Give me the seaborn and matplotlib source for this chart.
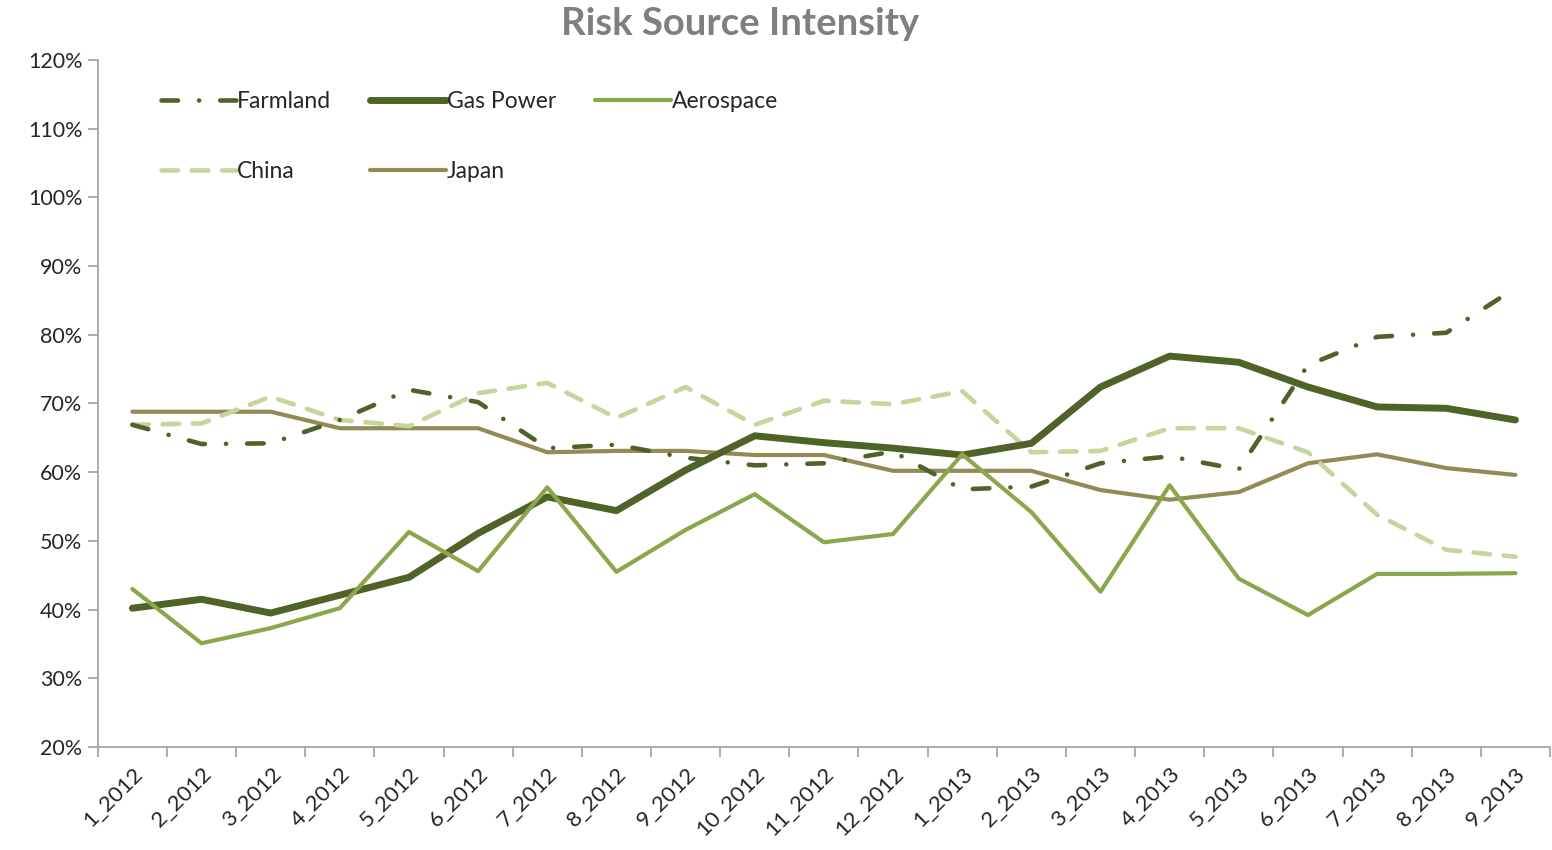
import numpy as np
import pandas as pd
import matplotlib
matplotlib.use("Agg")
import matplotlib.pyplot as plt
import seaborn as sns
from matplotlib.ticker import FixedLocator, PercentFormatter

# podaci ocitani sa slike (postoci)
months = ["1_2012", "2_2012", "3_2012", "4_2012", "5_2012", "6_2012", "7_2012",
          "8_2012", "9_2012", "10_2012", "11_2012", "12_2012", "1_2013", "2_2013",
          "3_2013", "4_2013", "5_2013", "6_2013", "7_2013", "8_2013", "9_2013"]
farmland = [66.9, 64.1, 64.2, 67.6, 72.0, 70.2, 63.5, 64.0, 62.1, 61.0, 61.3,
            63.0, 57.5, 57.9, 61.3, 62.3, 60.4, 75.6, 79.7, 80.3, 86.8]
gas_power = [40.2, 41.5, 39.5, 42.1, 44.7, 51.1, 56.4, 54.4, 60.3, 65.3, 64.3,
             63.5, 62.5, 64.2, 72.4, 76.9, 76.0, 72.4, 69.5, 69.3, 67.6]
aerospace = [43.0, 35.1, 37.3, 40.2, 51.3, 45.6, 57.8, 45.5, 51.6, 56.8, 49.8,
             51.0, 62.6, 54.2, 42.6, 58.1, 44.5, 39.2, 45.2, 45.2, 45.3]
china = [66.9, 67.1, 71.0, 67.6, 66.7, 71.5, 73.0, 67.9, 72.4, 66.9, 70.4,
         69.9, 71.8, 62.9, 63.1, 66.4, 66.4, 62.9, 53.8, 48.7, 47.7]
japan = [68.8, 68.8, 68.8, 66.4, 66.4, 66.4, 62.9, 63.1, 63.1, 62.5, 62.5,
         60.2, 60.2, 60.2, 57.4, 56.0, 57.1, 61.3, 62.6, 60.6, 59.6]

sns.set_style("white")
plt.rcParams['font.family'] = ['Lato', 'DejaVu Sans']

fig = plt.figure(figsize=(15.52, 8.5), dpi=100)
ax = fig.add_axes([0.063, 0.1212, 0.9357, 0.8082])

x = np.arange(len(months))

# stil za svaku seriju
serije = [
    ("Farmland", farmland, "#4F6228", 3.3, (0, (3.6, 4.6, 0.01, 4.6))),
    ("China", china, "#C3D69B", 3.3, (0, (3.6, 3.0))),
    ("Gas Power", gas_power, "#4F6228", 5.0, "-"),
    ("Japan", japan, "#948A54", 3.0, "-"),
    ("Aerospace", aerospace, "#8AA84B", 3.0, "-"),
]

redoslijed_crtanja = ["Japan", "China", "Farmland", "Gas Power", "Aerospace"]
linije = {}
for naziv in redoslijed_crtanja:
    s = [t for t in serije if t[0] == naziv][0]
    sns.lineplot(x=x, y=s[1], ax=ax, color=s[2], linewidth=s[3], label=s[0])
    ln = ax.get_lines()[-1]
    ln.set_linestyle(s[4])
    ln.set_dash_capstyle("round")
    ln.set_solid_capstyle("round")
    linije[naziv] = ln

ax.set_xlim(-0.5, len(months) - 0.5)
ax.set_ylim(20, 120)
ax.set_yticks(np.arange(20, 121, 10))
ax.yaxis.set_major_formatter(PercentFormatter(decimals=0))
ax.set_xticks(x)
ax.set_xticklabels(months, rotation=45, ha="right", rotation_mode="anchor")
ax.xaxis.set_minor_locator(FixedLocator(np.arange(-0.5, len(months), 1)))
ax.tick_params(axis="x", which="major", length=0, pad=12, labelsize=16)
ax.tick_params(axis="x", which="minor", length=7, width=1.2, color="#A0A0A0", direction="out", bottom=True)
ax.tick_params(axis="y", length=7, width=1.2, color="#A0A0A0", direction="out", left=True,
               labelsize=15.5, pad=4)

for sp in ["top", "right"]:
    ax.spines[sp].set_visible(False)
for sp in ["left", "bottom"]:
    ax.spines[sp].set_color("#A0A0A0")
    ax.spines[sp].set_linewidth(1.2)

ax.set_xlabel("")
ax.set_ylabel("")
ax.grid(False)

legend_red = ["Farmland", "China", "Gas Power", "Japan", "Aerospace"]
leg = ax.legend([linije[n] for n in legend_red], legend_red, ncol=3, loc="upper left",
                bbox_to_anchor=(0.029, 0.985), frameon=False, fontsize=16.5,
                handlelength=3.3, handletextpad=0.05, columnspacing=1.7,
                labelspacing=2.15)

fig.text(0.477, 0.972, "Risk Source Intensity", ha="center", va="center",
         fontsize=27.5, fontweight="bold", color="#7F7F7F")

fig.savefig("out.png", dpi=100)
